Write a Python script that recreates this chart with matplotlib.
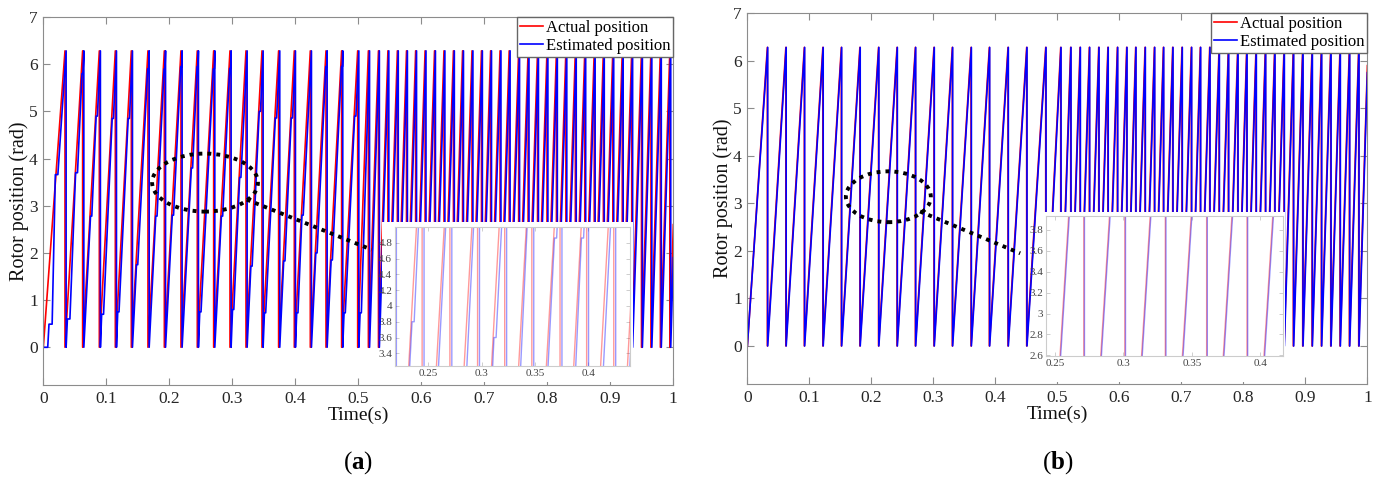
import numpy as np
import matplotlib
matplotlib.use('Agg')
from matplotlib import pyplot as plt
from matplotlib.patches import Ellipse, Rectangle
from matplotlib.ticker import FuncFormatter

plt.rcParams['font.family'] = ['Liberation Serif', 'DejaVu Serif']
plt.rcParams['mathtext.fontset'] = 'custom'
plt.rcParams['mathtext.rm'] = 'Liberation Serif'
plt.rcParams['mathtext.bf'] = 'Liberation Serif:bold'

TWO_PI = 2 * np.pi

# ---- panel (a): times (s) where the position wraps from 2*pi back to 0
red_a_wrap = [0.0344, 0.0624, 0.0889, 0.1143, 0.1397, 0.1661, 0.1921, 0.2185, 0.2444,
              0.2704, 0.2963, 0.3217, 0.3471, 0.3735, 0.3984, 0.4238, 0.4487, 0.4735,
              0.4990, 0.5160, 0.5320, 0.5470, 0.5620, 0.5765, 0.5910, 0.6060, 0.6210,
              0.6360, 0.6510, 0.6655, 0.6805, 0.6955, 0.7100, 0.7250, 0.7395, 0.7545,
              0.7695, 0.7845, 0.7995, 0.8145, 0.8295, 0.8445, 0.8595, 0.8745, 0.8890,
              0.9040, 0.9190, 0.9340, 0.9495, 0.9645, 0.9795, 0.9945]
blue_a_wrap = [0.0362, 0.0643, 0.0906, 0.1161, 0.1415, 0.1680, 0.1940, 0.2203, 0.2462,
               0.2722, 0.2981, 0.3235, 0.3489, 0.3753, 0.4002, 0.4256, 0.4505, 0.4753,
               0.5008, 0.5178, 0.5334, 0.5484, 0.5634, 0.5779, 0.5924, 0.6074, 0.6224,
               0.6374, 0.6524, 0.6669, 0.6819, 0.6969, 0.7114, 0.7264, 0.7409, 0.7559,
               0.7709, 0.7859, 0.8009, 0.8159, 0.8309, 0.8459, 0.8609, 0.8759, 0.8904,
               0.9054, 0.9204, 0.9354, 0.9509, 0.9659, 0.9809, 0.9959]
red_a_end = 2.6
blue_a_end = 1.9
# flat steps of the estimate in each period: (level rad, duration s)
blue_a_steps = [
    [(0.0, 0.005), (0.49, 0.005), (3.66, 0.004)],
    [(0.6, 0.004), (3.7, 0.003), (5.8, 0.0015)],
    [(2.78, 0.002), (4.9, 0.002)],
    [(0.7, 0.003), (4.85, 0.002)],
    [(0.75, 0.002), (4.85, 0.002)],
    [(1.75, 0.002), (5.9, 0.0015)],
    [(2.78, 0.002), (5.9, 0.0015)],
    [(2.8, 0.002), (5.95, 0.0015)],
    [(3.8, 0.002), (5.95, 0.0015)],
    [(0.75, 0.002), (5.9, 0.0015)],
    [(2.78, 0.002), (5.91, 0.0015)],
    [(0.8, 0.002), (3.6, 0.002)],
    [(1.72, 0.002), (5.0, 0.002)],
    [(0.73, 0.002), (4.86, 0.002)],
    [(1.83, 0.002), (4.86, 0.002)],
    [(0.73, 0.002), (2.8, 0.002)],
    [(2.0, 0.002), (5.95, 0.0015)],
    [(1.85, 0.002), (5.95, 0.0015)],
    [(0.73, 0.002), (4.9, 0.002)],
    [(0.73, 0.002)],
]

# ---- panel (b)
red_b_wrap = [0.0323, 0.0621, 0.0919, 0.1218, 0.1516, 0.1815, 0.2116, 0.2414, 0.2710,
              0.3010, 0.3306, 0.3608, 0.3903, 0.4204, 0.4505, 0.4812, 0.5054, 0.5215,
              0.5366, 0.5516, 0.5667, 0.5815, 0.5968, 0.6118, 0.6263, 0.6414, 0.6565,
              0.6710, 0.6860, 0.7010, 0.7161, 0.7306, 0.7457, 0.7608, 0.7758, 0.7909,
              0.8054, 0.8204, 0.8355, 0.8505, 0.8656, 0.8806, 0.8957, 0.9108, 0.9258,
              0.9409, 0.9559, 0.9710, 0.9860]
blue_b_wrap = [0.0328, 0.0626, 0.0924, 0.1223, 0.1521, 0.1820, 0.2121, 0.2419, 0.2715,
               0.3015, 0.3311, 0.3613, 0.3908, 0.4209, 0.4510, 0.4817, 0.5059, 0.5220,
               0.5371, 0.5521, 0.5672, 0.5820, 0.5973, 0.6123, 0.6268, 0.6419, 0.6570,
               0.6715, 0.6865, 0.7015, 0.7166, 0.7311, 0.7462, 0.7613, 0.7763, 0.7914,
               0.8059, 0.8209, 0.8360, 0.8510, 0.8661, 0.8811, 0.8962, 0.9113, 0.9263,
               0.9414, 0.9564, 0.9715, 0.9865]
red_b_end = 5.9
blue_b_end = 5.75

x_ticks = [0, 0.1, 0.2, 0.3, 0.4, 0.5, 0.6, 0.7, 0.8, 0.9, 1]
y_ticks = [0, 1, 2, 3, 4, 5, 6, 7]
inset_a_xticks = [0.25, 0.3, 0.35, 0.4]
inset_a_yticks = [3.4, 3.6, 3.8, 4.0, 4.2, 4.4, 4.6, 4.8]
inset_b_xticks = [0.25, 0.3, 0.35, 0.4]
inset_b_yticks = [2.6, 2.8, 3.0, 3.2, 3.4, 3.6, 3.8]


def sawtooth(wraps, end_val, steps=None):
    t = [0.0]
    y = [0.0]
    w0 = 0.0
    for k, w in enumerate(wraps):
        if steps is not None and k < len(steps):
            for lev, dur in steps[k]:
                tl = w0 + (w - w0) * lev / TWO_PI
                a = max(t[-1] + 0.002, tl - dur / 2)
                a = min(a, w - dur - 0.0004)
                t += [a, a + dur]
                y += [lev, lev]
        t += [w, w]
        y += [TWO_PI, 0.0]
        w0 = w
    t.append(1.0)
    y.append(end_val)
    return t, y


gfmt = FuncFormatter(lambda v, p: '%g' % v)
spine_col = '#8c8c8c'


def style_main(ax):
    ax.set_xlim(0, 1)
    ax.set_ylim(-0.8, 7)
    ax.set_xticks(x_ticks)
    ax.set_yticks(y_ticks)
    ax.xaxis.set_major_formatter(gfmt)
    ax.yaxis.set_major_formatter(gfmt)
    ax.tick_params(direction='in', top=True, right=True, length=5, width=0.8,
                   color=spine_col, labelcolor='#262626', labelsize=12.5, pad=4)
    for s in ax.spines.values():
        s.set_color(spine_col)
        s.set_linewidth(0.8)
    ax.set_xlabel('Time(s)', fontsize=14, labelpad=0, color='#111111')
    ax.set_ylabel('Rotor position (rad)', fontsize=14.5, labelpad=0, color='#111111')
    ax.legend(loc='upper right', borderaxespad=0, fontsize=12, fancybox=False,
              framealpha=1, edgecolor='#666666', handlelength=1.4, handletextpad=0.2,
              borderpad=0.15, labelspacing=0.15)


def style_inset(ax, xlim, ylim, xt, yt):
    ax.set_xlim(*xlim)
    ax.set_ylim(*ylim)
    ax.set_xticks(xt)
    ax.set_yticks(yt)
    ax.xaxis.set_major_formatter(gfmt)
    ax.yaxis.set_major_formatter(gfmt)
    ax.tick_params(direction='in', top=True, right=True, length=3, width=0.5,
                   color='#bbbbbb', labelcolor='#444444', labelsize=8, pad=2)
    for s in ax.spines.values():
        s.set_color('#cccccc')
        s.set_linewidth(0.8)


fig = plt.figure(figsize=(13.84, 4.82), dpi=100)

ra = sawtooth(red_a_wrap, red_a_end)
ba = sawtooth(blue_a_wrap, blue_a_end, blue_a_steps)
rb = sawtooth(red_b_wrap, red_b_end)
bb = sawtooth(blue_b_wrap, blue_b_end)

panels = [
    dict(rect=[0.0313, 0.2012, 0.4552, 0.7635], red=ra, blue=ba,
         ell=(0.2567, 3.49, 0.168, 1.23), tail=([0.323, 0.521], [3.13, 2.07]),
         cover=[0.276, 0.207, 0.1815, 0.333],
         inset=[0.2854, 0.2407, 0.1698, 0.2884], ixlim=(0.219, 0.439), iylim=(3.24, 5.0),
         ixt=inset_a_xticks, iyt=inset_a_yticks, lab=r'($\mathbf{a}$)', labx=0.259),
    dict(rect=[0.5400, 0.2033, 0.4480, 0.7691], red=rb, blue=bb,
         ell=(0.2274, 3.14, 0.137, 1.07), tail=([0.2785, 0.44], [2.83, 1.95]),
         cover=[0.750, 0.207, 0.1785, 0.353],
         inset=[0.7558, 0.2614, 0.1712, 0.2905], ixlim=(0.2434, 0.4166), iylim=(2.594, 3.934),
         ixt=inset_b_xticks, iyt=inset_b_yticks, lab=r'($\mathbf{b}$)', labx=0.764),
]

for p in panels:
    ax = fig.add_axes(p['rect'])
    ax.plot(p['red'][0], p['red'][1], color='#ff0000', lw=1.2, label='Actual position')
    ax.plot(p['blue'][0], p['blue'][1], color='#0000ff', lw=1.2, label='Estimated position')
    cx, cy, ew, eh = p['ell']
    ax.add_patch(Ellipse((cx, cy), ew, eh, fill=False, edgecolor='black', lw=2.8,
                         linestyle=(0, (1, 1.3)), zorder=5))
    ax.plot(p['tail'][0], p['tail'][1], color='black', lw=2.8,
            linestyle=(0, (1, 1.3)), zorder=5)
    style_main(ax)

    fig.add_artist(Rectangle((p['cover'][0], p['cover'][1]), p['cover'][2], p['cover'][3],
                             transform=fig.transFigure, facecolor='white',
                             edgecolor='none', zorder=1))
    ins = fig.add_axes(p['inset'], zorder=3)
    ins.plot(p['red'][0], p['red'][1], color='#ff0000', lw=1.0, alpha=0.4)
    ins.plot(p['blue'][0], p['blue'][1], color='#0000ff', lw=1.0, alpha=0.4)
    style_inset(ins, p['ixlim'], p['iylim'], p['ixt'], p['iyt'])

    fig.text(p['labx'], 0.04, p['lab'], fontsize=18, ha='center', va='center')

fig.savefig('out.png', dpi=100)
